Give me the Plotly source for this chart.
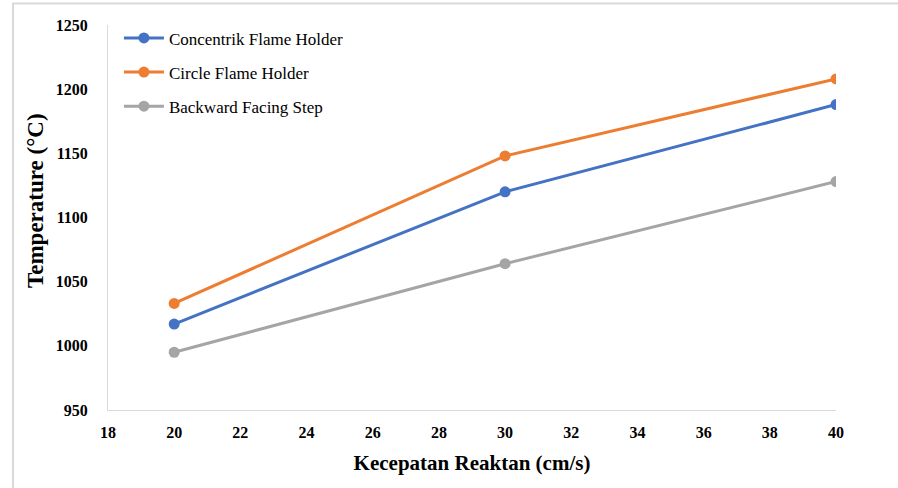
import plotly.graph_objects as go

x_vals = [20, 30, 40]
concentrik = [1017, 1120, 1188]
circle = [1033, 1148, 1208]
backward = [995, 1064, 1128]
series_names = ["Concentrik Flame Holder", "Circle Flame Holder", "Backward Facing Step"]
colors = ["#4472C4", "#ED7D31", "#A5A5A5"]

fig = go.Figure()
for i, (name, vals, c) in enumerate(zip(series_names, [concentrik, circle, backward], colors)):
    fig.add_trace(go.Scatter(x=x_vals, y=vals, name=name, mode="lines+markers",
                             legendgroup="g%d" % i,
                             line=dict(color=c, width=3),
                             marker=dict(color=c, size=11)))

L, R, T, B = 108, 62, 25, 78
W, H = 898, 488
pw, ph = W - L - R, H - T - B

def px2paper_x(px):
    return (px - L) / pw

def px2paper_y(py):
    return (H - B - py) / ph

fig.add_shape(type="line", xref="paper", yref="paper",
              x0=px2paper_x(13), x1=px2paper_x(13), y0=px2paper_y(3.5), y1=px2paper_y(500),
              line=dict(color="#D9D9D9", width=2))
fig.add_shape(type="line", xref="paper", yref="paper",
              x0=px2paper_x(12), x1=px2paper_x(900), y0=px2paper_y(3.5), y1=px2paper_y(3.5),
              line=dict(color="#D9D9D9", width=2))

SERIF = "Times New Roman, Liberation Serif, serif"
tick_font = dict(family=SERIF, size=16, color="#000000", weight="bold")

fig.add_annotation(text="Temperature (°C)", xref="paper", yref="paper",
                   x=px2paper_x(35), y=px2paper_y(201), xanchor="center", yanchor="middle",
                   textangle=-90, showarrow=False,
                   font=dict(family=SERIF, size=23, color="#000000", weight="bold"))

fig.update_layout(
    width=W, height=H,
    margin=dict(l=L, r=R, t=T, b=B),
    paper_bgcolor="white", plot_bgcolor="white",
    showlegend=True,
    legend=dict(x=0.015, y=1.012, xanchor="left", yanchor="top",
                font=dict(family=SERIF, size=17, color="#000000"),
                bgcolor="rgba(0,0,0,0)", itemwidth=40, tracegroupgap=9,
                traceorder="grouped"),
    xaxis=dict(range=[18, 40], tickvals=list(range(18, 41, 2)),
               showgrid=False, zeroline=False, showline=True, linecolor="#D9D9D9", linewidth=1,
               ticks="", tickfont=tick_font, ticklabelstandoff=8,
               title=dict(text="Kecepatan Reaktan (cm/s)",
                          font=dict(family=SERIF, size=21, color="#000000", weight="bold"),
                          standoff=15)),
    yaxis=dict(range=[950, 1250], tickvals=list(range(950, 1251, 50)),
               showgrid=False, zeroline=False, showline=True, linecolor="#D9D9D9", linewidth=1,
               ticks="", tickfont=tick_font, ticklabelstandoff=16),
)

fig.write_html("out.html", config={"displayModeBar": False},
               post_script="document.body.style.margin='0px';document.body.style.padding='0px';")
